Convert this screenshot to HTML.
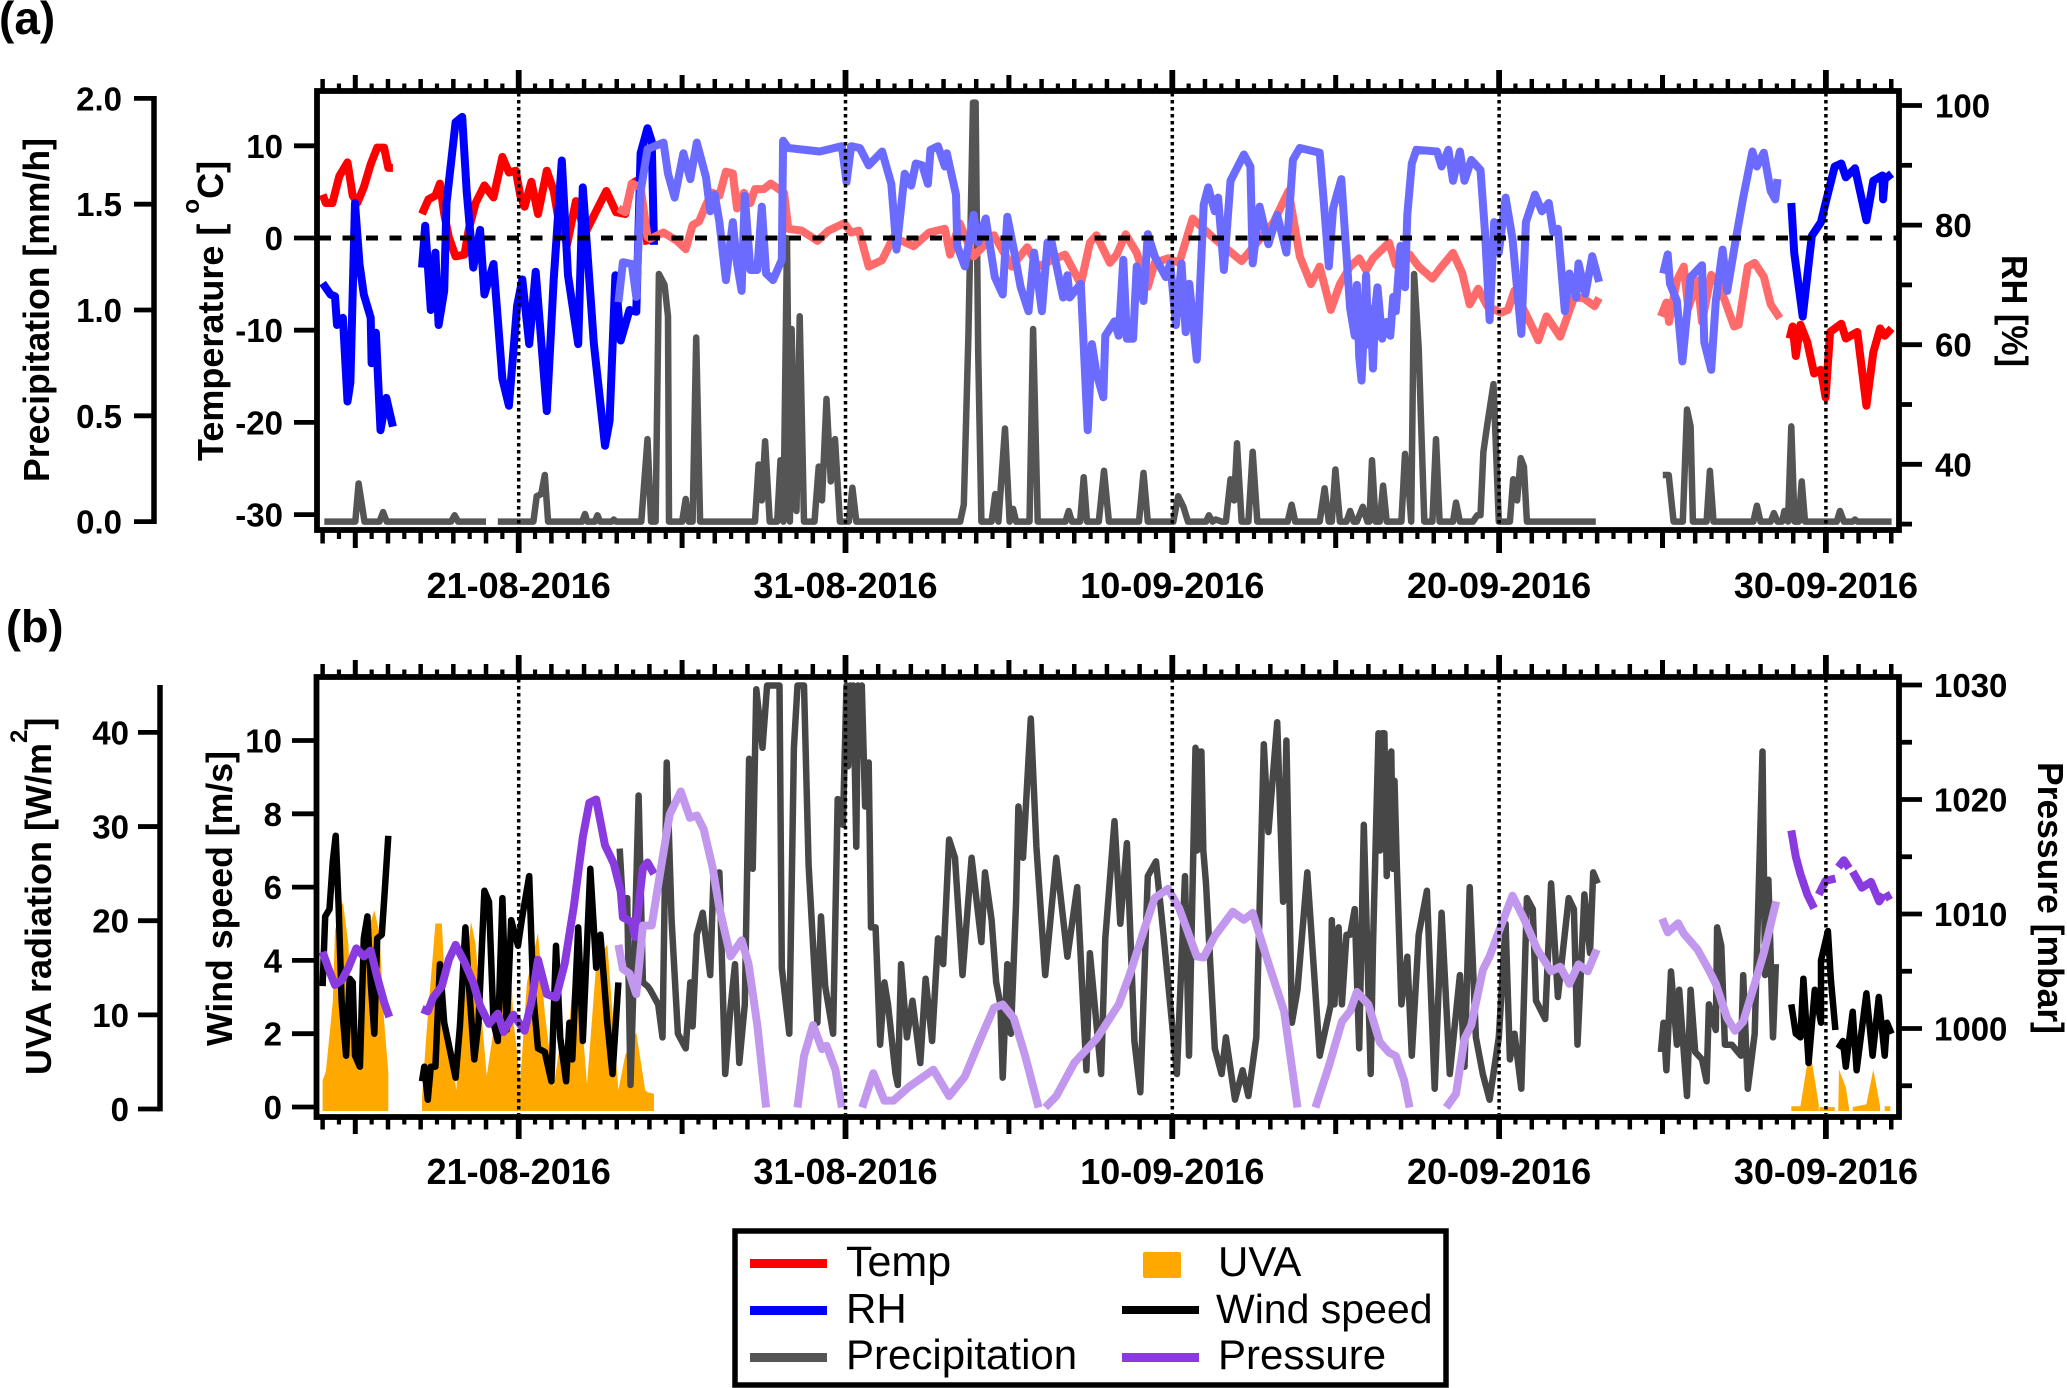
<!DOCTYPE html>
<html lang="en">
<head>
<meta charset="utf-8">
<title>Meteorological time series</title>
<style>
html,body{margin:0;padding:0;background:#fff;width:2067px;height:1388px;overflow:hidden}
svg{display:block}
text{font-family:"Liberation Sans",Arial,sans-serif;fill:#000}
.b{font-weight:bold}
</style>
</head>
<body>
<svg id="chart" xmlns="http://www.w3.org/2000/svg" width="2067" height="1388" viewBox="0 0 2067 1388">
  <rect x="0" y="0" width="2067" height="1388" fill="#fff"/>
  <g id="panelA"></g>
  <g id="panelB"></g>

  <text class="b" x="-1" y="34" font-size="46">(a)</text>
  <text class="b" x="6" y="642" font-size="45">(b)</text>

  <text class="b" font-size="36" transform="translate(49,482) rotate(-90)" textLength="344" lengthAdjust="spacingAndGlyphs">Precipitation [mm/h]</text>
  <text class="b" font-size="36" transform="translate(223,461) rotate(-90)">Temperature [ <tspan font-size="24" dy="-24">o</tspan><tspan dy="24">C]</tspan></text>
  <text class="b" font-size="36" transform="translate(2002,255) rotate(90)" textLength="112" lengthAdjust="spacingAndGlyphs">RH [%]</text>
  <text class="b" font-size="36" transform="translate(51,1075) rotate(-90)">UVA radiation [W/m<tspan font-size="24" dy="-24">2</tspan><tspan dy="24">]</tspan></text>
  <text class="b" font-size="36" transform="translate(232,1046) rotate(-90)" textLength="295" lengthAdjust="spacingAndGlyphs">Wind speed [m/s]</text>
  <text class="b" font-size="36" transform="translate(2038,762) rotate(90)" textLength="272" lengthAdjust="spacingAndGlyphs">Pressure [mbar]</text>

  <g>
    <rect x="735" y="1231" width="711" height="154" fill="#fff" stroke="#000" stroke-width="5.5"/>
    <rect x="750" y="1259" width="77" height="9" fill="#ff0000"/>
    <text x="846" y="1276" font-size="43">Temp</text>
    <rect x="750" y="1306" width="77" height="9" fill="#0000ff"/>
    <text x="846" y="1323" font-size="42">RH</text>
    <rect x="750" y="1353" width="77" height="9" fill="#555"/>
    <text x="846" y="1369" font-size="42">Precipitation</text>
    <rect x="1143" y="1252" width="38" height="26" rx="2" fill="#ffa800"/>
    <text x="1218" y="1276" font-size="42">UVA</text>
    <rect x="1122" y="1306" width="77" height="8" fill="#000"/>
    <text x="1216" y="1323" font-size="41">Wind speed</text>
    <rect x="1122" y="1353" width="77" height="9" fill="#8a3be0"/>
    <text x="1218" y="1369" font-size="42">Pressure</text>
  </g>
</svg>
<script>
// ---------- Shared axis data ----------
const dateDays = [0, 10, 20, 30, 40];
const dateLabels = ['21-08-2016', '31-08-2016', '10-09-2016', '20-09-2016', '30-09-2016'];
const tickStartDay = -6;
const tickEndDay = 42;
const tempTicks = [10, 0, -10, -20, -30];
const precipTicks = [0, 0.5, 1, 1.5, 2];
const rhMajorTicks = [100, 80, 60, 40];
const rhMinorTicks = [90, 70, 50, 30];
const windTicks = [10, 8, 6, 4, 2, 0];
const uvaTicks = [40, 30, 20, 10, 0];
const pressureMajorTicks = [1030, 1020, 1010, 1000];
const pressureMinorTicks = [1025, 1015, 1005, 995];

// ---------- Panel (a) series: days since 21-08-2016, null = gap ----------
const tempDays = [-6,-5.9,-5.7,-5.49,-5.24,-5.08,-4.94,-4.74,-4.53,-4.33,-4.12,-3.99,-3.85,null,
-2.96,-2.76,-2.55,-2.41,-2.28,-2.14,-1.93,-1.66,-1.53,-1.32,-1.05,-.77,-.5,-.3,-.09,.05,.18,.39,.59,.86,1.07,1.21,1.48,1.75,2.03,2.44,2.68,2.98,3.26,3.46,3.66,3.94,null,
38.89,38.98,39.08,39.22,39.43,39.64,39.85,39.99,40.13,40.47,40.61,40.96,41.24,41.45,41.66,41.8,42.01];
const tempValues = [4.7,3.8,3.8,6.7,8.2,4.6,3.8,5.5,8,9.8,9.8,7.6,7.6,null,
2.6,4.2,4.6,5.9,2.6,.1,-2,-1.8,.9,3.8,5.7,4.4,8.8,7.1,7.3,4.6,3.4,6.1,2.6,7.3,5.1,2.2,-.7,4,.5,3.4,5.1,2.8,2.6,5.9,6.3,-.7,null,
-10.9,-9.6,-12.8,-9.4,-11.3,-14.7,-14.3,-17.3,-10.2,-9.3,-10.9,-10.2,-18.2,-12.4,-9.8,-10.6,-9.8];
const tempFadedDays = [3.05,3.26,3.46,3.73,3.94,4.02,4.43,4.84,5.11,5.32,5.52,5.73,5.93,6.14,6.34,6.55,6.68,6.89,7.09,7.23,7.5,7.71,8.12,8.25,8.66,9.14,9.48,9.96,10.17,10.41,10.71,11.12,11.47,12.08,12.56,13.04,13.2,13.49,13.92,14.54,15.09,15.56,15.9,16.25,16.72,17.2,17.48,17.68,18.09,18.3,18.57,18.91,19.25,19.46,19.87,20.21,20.62,21.23,22.12,23.08,23.56,23.9,24.24,24.51,24.85,25.13,25.44,25.72,25.93,26.14,26.63,26.84,27.26,27.54,27.96,28.24,28.59,28.87,29.1,29.36,29.64,30.06,30.27,30.47,31.03,31.2,31.45,31.87,32.29,32.57,32.92,33.06,null,
34.95,35.12,35.2,35.44,35.65,35.79,36.07,36.21,36.49,36.7,36.91,37.19,37.33,37.61,37.82,38.1,38.31,38.59];
const tempFadedValues = [3.2,2.8,5.9,5.5,.1,-.1,.6,-.3,-1.2,1.4,1.8,3.6,4.9,4.6,7.2,7,3.2,4.9,3.8,5.3,5.3,5.9,4.9,1,.8,-.3,.8,1.6,.6,.8,-3.1,-2.4,.1,-.9,.6,1,-1.8,1.6,-2,.3,-3.1,-1,-3.1,-2.5,-1.8,-5,-.5,.3,-2.7,-1.8,.4,-1.6,-5.3,-2.7,-2.2,-2.7,2.1,.1,-2.5,1.6,5.1,-2,-5,-3.1,-7.8,-5,-3.1,-2.2,-3.5,-2.2,-.5,-2.9,-1.8,-3.1,-4.4,-3.1,-1.6,-3.8,-7.2,-5.5,-7.4,-8.1,-7.8,-5.7,-9.8,-11.1,-8.5,-10.7,-6.5,-6.5,-7.4,-6.5,null,
-8.5,-7,-9.1,-4.6,-3.1,-7.6,-4.6,-9.1,-4,-5,-6.8,-9.6,-9.4,-3.1,-2.7,-4.2,-7.2,-8.7];

const rhDays = [-6,-5.76,-5.62,-5.56,-5.38,-5.24,-5.15,-5.01,-4.87,-4.74,-4.53,-4.5,-4.37,-4.23,-4.05,-3.85,null,
-2.96,-2.86,-2.69,-2.55,-2.45,-2.28,-2.21,-1.93,-1.73,-1.59,-1.39,-1.18,-1.05,-.77,-.5,-.3,-.05,.11,.32,.52,.86,1.07,1.32,1.51,1.82,1.96,2.3,2.64,2.78,2.96,3.12,3.39,3.6,3.73,3.94,4.07,4.14,null,
38.94,39.03,39.29,39.57,39.85,39.99,40.27,40.47,40.61,40.89,41.24,41.45,41.73,41.75,41.8,42.01];
const rhValues = [70.3,68.4,68.1,63.3,64.5,50.5,53.7,83.7,73.5,68.4,64.5,56.9,62,45.7,51.1,46.3,null,
72.9,79.9,65.8,75.4,63.3,69,83.7,97.2,98.1,85.6,72.9,79.2,68.4,73.5,54.3,49.8,66.5,70.9,60.1,72.2,48.9,70.9,90.8,71.6,60.1,86.3,60.1,43.1,47.3,71.6,60.7,65.8,65.5,92,96.2,94,76.7,null,
83.7,75.4,64.7,78.2,80.5,83.7,89.8,90.3,88,89.5,80.8,87.4,88.3,84.3,87.7,88.6];
const rhFadedDays = [3.05,3.19,3.46,3.6,3.73,3.94,4.16,4.43,4.57,4.77,5.04,5.25,5.45,5.73,5.86,6,6.14,6.34,6.55,6.68,6.82,6.92,7.09,7.3,7.44,7.57,7.78,8.05,8.09,8.25,9.21,9.89,10.03,10.17,10.44,10.71,11.12,11.4,11.56,11.81,12.01,12.15,12.35,12.52,12.6,12.83,13.04,13.1,13.38,13.42,13.65,13.92,14.06,14.29,14.57,14.81,14.95,15.15,15.36,15.6,15.77,16.01,16.18,16.31,16.66,16.79,16.86,17.2,17.41,17.54,17.68,17.89,17.95,18.23,18.36,18.5,18.61,18.8,18.91,19.12,19.25,19.46,19.8,19.94,20.11,20.28,20.41,20.52,20.75,20.96,21.1,21.3,21.4,21.58,21.78,22.19,22.39,22.46,22.67,22.94,23.21,23.49,23.69,23.9,24.51,24.65,24.79,24.92,25.17,25.44,25.58,25.65,25.72,25.79,25.86,25.93,26.0,26.07,26.14,26.21,26.28,26.42,26.56,26.67,26.76,26.84,26.98,27.12,27.19,27.33,27.47,28.1,28.24,28.45,28.59,28.8,28.94,29.15,29.43,29.57,29.71,29.85,29.99,30.2,30.41,30.68,30.82,31.1,31.31,31.52,31.66,31.8,32.01,32.15,32.36,32.43,32.64,32.85,33.06,null,
35.02,35.16,35.23,35.44,35.61,35.86,36.21,36.28,36.49,36.63,36.84,36.98,37.26,37.47,37.75,37.89,38.1,38.31,38.45,38.52];
const rhFadedValues = [67.1,73.8,73.5,68,85.6,92.7,93.2,93.8,88.6,84.6,92,87.7,93.8,88,82.3,85.1,80.5,70.8,80.5,73.6,69,84.9,72.5,72.5,83.1,71.9,70.8,74.2,94.1,92.9,92.3,93.2,87.2,93.2,92.9,90,92.3,86.9,75.9,88.6,86.6,90.3,90,86.9,92.6,93.2,89.8,92,85.1,76.5,73.1,81.7,77.1,81.1,71.3,68.4,81.4,75.9,69.6,65.6,75.4,65.6,77.1,77.1,67.9,71.6,67.9,70.2,45.7,60.1,55.2,51.2,61.5,63.9,61.5,74.2,61,61,73.1,67.3,78.5,74.8,71.3,73.6,63.3,73.6,62.1,70.2,57.5,83.4,86.3,82.3,84.6,72.5,87.4,91.8,89.8,73.6,83.1,76.8,81.7,75.4,90.9,92.9,92.1,82.8,73.1,82.8,87.7,66.1,61.5,70,58,54,62,71.6,60,66,56,66,69.6,61,63.8,61.5,68,65.6,76.5,69.6,81.7,90.3,92.6,92.3,89.8,92.6,87.4,92.3,87.4,90.9,89.2,78.8,64.1,80.5,75.4,84.6,77.7,61.8,80.5,85.1,82.3,83.7,78.8,79.4,65.6,71.9,67.9,73.6,68.5,74.8,70.5,null,
71.9,75.1,70.2,67.3,57.2,71.3,73.3,60.4,55.8,67.3,75.9,69,78.2,84.6,92.3,89.8,92.1,85.7,84.3,87.7];

const precipDays = [-5.95,-5,-4.9,-4.72,-4.26,-4.15,-4.04,-2.07,-1.96,-1.85,-1,null,
-.64,.45,.55,.69,.8,.9,1.94,2.03,2.1,2.33,2.41,2.49,2.85,2.91,2.98,3.75,3.94,4.05,4.19,4.29,4.46,4.57,4.6,5,5.11,5.2,5.32,5.43,5.55,7.23,7.34,7.44,7.54,7.68,7.91,8.01,8.1,8.21,8.3,8.35,8.42,8.5,8.6,8.73,9.05,9.18,9.28,9.42,9.55,9.68,9.83,10.1,10.21,10.33,13.51,13.62,13.76,13.9,13.98,14.06,14.16,14.47,14.58,14.68,14.88,15.02,15.13,15.22,15.63,15.74,15.88,16.73,16.83,16.93,17.18,17.29,17.39,17.75,17.91,18.06,18.98,19.12,19.25,20.03,20.18,20.34,20.48,21.03,21.12,21.23,21.33,21.51,21.64,21.78,21.89,21.98,22.12,22.33,22.46,22.6,23.53,23.65,23.76,24.51,24.66,24.79,24.88,24.99,25.13,25.33,25.44,25.55,25.65,25.83,25.97,26.03,26.11,26.22,26.35,26.45,26.56,27.01,27.12,27.23,27.31,27.4,27.54,27.61,27.71,27.96,28.07,28.18,28.59,28.68,28.8,29.2,29.33,29.43,29.52,29.64,29.83,29.99,30.33,30.43,30.55,30.66,30.76,30.85,32.96,null,
35.01,35.19,35.34,35.62,35.75,35.86,35.93,36.35,36.45,36.56,37.78,37.89,38,38.31,38.41,38.52,38.66,38.73,38.84,38.94,39.04,39.17,39.26,39.36,40.33,40.43,40.55,40.82,40.89,40.96,42.01];
const precipValues = [0,0,.18,0,0,.045,0,0,.03,0,0,null,
0,0,.12,.13,.22,0,0,.036,0,0,.03,0,0,.01,0,0,.39,0,0,1.17,1.12,.97,0,0,.107,0,0,.87,0,0,.27,.1,.38,0,0,.29,0,1.34,0,.91,.42,.05,.97,0,0,.26,.1,.58,.19,.39,0,0,.16,0,0,.08,.88,1.98,1.98,.8,0,0,.13,0,.44,0,.06,0,0,.91,0,0,.05,0,0,.21,0,0,.24,0,0,.23,0,0,.12,.07,0,0,.03,0,.01,0,0,.2,.1,.37,0,0,.33,0,0,.08,0,0,.157,0,0,.246,0,0,.05,0,0,.07,0,0,.29,0,0,.17,0,0,.32,.17,0,1.17,.82,.48,0,0,.39,0,0,.09,0,0,.03,.03,.33,.46,.65,0,0,.2,.1,.3,.26,0,0,null,
.22,.22,0,0,.53,.45,0,0,.24,0,0,.075,0,0,.04,0,0,.05,0,.45,0,0,.19,0,0,.05,0,0,.01,0,0];

// ---------- Panel (b) series ----------
const uvaDays = [-6,-5.9,-5.69,-5.62,-5.38,-5.21,-5.08,-4.87,-4.67,-4.42,-4.26,-4.12,-3.99,null,
-2.96,-2.82,-2.55,-2.35,-2.21,-1.91,-1.73,-1.46,-1.32,-.98,-.64,-.3,-.16,.05,.25,.59,.8,1.07,1.23,1.48,1.75,2.09,2.37,2.71,3.05,3.26,3.6,3.87,3.94,4.14,null,
38.94,39.22,39.43,39.57,39.78,null,39.8,39.92,40.27,null,40.38,40.4,40.61,40.71,null,40.82,41.24,41.45,41.66,null,41.8,41.97];
const uvaValues = [3,4,11.4,19,22,17.5,5.3,4,18.3,21.1,18.7,9.3,3.9,null,
1.2,8.1,19.7,19.7,9.3,2,11.4,19.9,17.5,3.5,11.4,19.1,9.3,3,13.4,18.7,10.2,2.4,6.1,6.1,17.5,2.6,15.4,17.5,2,5.7,8.1,2,1.8,1.6,null,
.3,.3,4.9,5.1,.5,null,.2,.2,.2,null,.1,4.2,2.3,.1,null,.2,.5,4.2,.3,null,.3,.3];

const windDays = [-6,-5.92,-5.79,-5.69,-5.6,-5.51,-5.42,-5.28,-5.17,-5.08,-5.01,-4.86,-4.74,-4.63,-4.53,-4.42,-4.33,-4.19,-4.09,-3.99,null,
-2.96,-2.89,-2.78,-2.69,-2.55,-2.41,-2.28,-2.14,-1.93,-1.8,-1.63,-1.53,-1.36,-1.23,-1.05,-.91,-.77,-.64,-.5,-.37,-.23,-.02,.11,.32,.45,.59,.8,1,1.14,1.27,1.45,1.55,1.64,1.82,1.96,2.19,2.37,2.5,2.71,2.87,3.05,null,
38.94,39.08,39.22,39.31,39.47,39.66,39.85,39.85,40.06,40.15,40.29,null,
40.38,40.52,40.61,40.82,40.94,41.24,41.43,41.62,41.8,41.87,42.01];
const windValues = [3.3,5.2,5.4,6.7,7.4,5.5,2.9,1.4,3.5,3.4,1.4,1.1,4.6,5.2,3.4,2,4.6,4.7,6,7.4,null,
.7,1.1,.2,1.1,1.1,3.9,2.3,1.7,.8,2.2,4.9,3.4,1.3,2.3,5.9,5.6,2.3,1.8,5.7,2.1,5.1,4.4,5.2,6.3,3,1.6,1.5,.7,4.4,1.9,.7,2.3,1.3,4.9,1.8,6.5,3.8,4.7,2.3,.9,3.4,null,
2.8,2,1.9,3.5,1.2,3.2,2.3,4,4.8,3.5,2.1,null,
1.6,1.8,1.1,2.6,1,3.1,1.4,3,1.4,2.3,2];
const windFadedDays = [3.09,3.19,3.32,3.42,3.53,3.67,3.8,3.94,4.02,4.27,4.4,4.53,4.68,4.87,5.11,5.25,5.32,5.45,5.63,5.86,5.96,6.14,6.32,6.48,6.62,6.75,6.92,7.05,7.16,7.27,7.46,7.6,7.98,8.05,8.28,8.42,8.53,8.73,8.87,9.14,9.25,9.38,9.62,9.76,9.92,10.03,10.08,10.14,10.19,10.24,10.33,10.38,10.44,10.5,10.6,10.71,10.78,10.92,11.06,11.19,11.3,11.53,11.6,11.7,11.88,12.05,12.29,12.45,12.65,12.83,12.99,13.17,13.35,13.58,13.86,14.16,14.27,14.47,14.61,14.74,14.81,14.95,15.06,15.22,15.29,15.43,15.67,15.84,16.11,16.45,16.79,17.09,17.37,17.48,17.82,17.95,18.23,18.41,18.61,18.84,19.02,19.25,19.5,19.73,20.14,20.39,20.51,20.71,20.76,20.8,20.85,20.89,20.95,21.03,21.3,21.51,21.64,21.92,22.15,22.33,22.57,22.8,22.94,23.21,23.39,23.49,23.66,23.83,24.13,24.51,24.85,24.88,24.96,25.09,25.19,25.33,25.44,25.58,25.72,25.86,26.07,26.14,26.31,26.36,26.42,26.49,26.56,26.62,26.7,26.75,26.8,26.87,27.01,27.19,27.33,27.54,27.79,28.03,28.24,28.49,28.8,28.94,29.1,29.29,29.5,29.71,29.99,30.2,30.33,30.47,30.68,30.85,31.03,31.13,31.41,31.59,31.8,32.13,32.29,32.4,32.61,32.78,32.88,33.02,null,
34.95,35.03,35.12,35.26,35.44,35.51,35.75,35.86,36,36.21,36.35,36.42,36.63,36.67,36.8,36.91,37.12,37.4,37.47,37.61,37.82,38.06,38.14,38.24,38.38,38.47];
const windFadedValues = [7.05,5.5,5.7,.6,3.9,8.5,3.4,3.3,3.2,2.8,1.9,9.4,5.1,2,1.6,3.4,2.2,4.7,5.3,3.6,6.3,6.4,.9,2.7,3.9,1.2,2.8,9.5,6.5,11.4,9.8,11.5,11.5,3.8,2,9.8,11.5,11.5,6.6,2.3,5.2,3.3,2,8.4,7.7,11.5,9.3,11.5,9.6,11.5,7.1,11.5,9.6,11.5,8.2,9.4,4.9,4.9,1.7,3.4,2.8,.9,.6,3.9,1.9,2.9,1.2,3.5,1.8,4.6,3.9,7.3,6.8,3.6,6.8,4.5,6.4,5.1,3.4,2.8,.8,3.9,2,5.6,8.2,6.8,10.6,7.1,3.6,6.8,4.1,6,1,4.2,.9,4.6,7.8,5,7.2,1.8,.4,6.3,6.7,4.7,.9,6.3,1.4,9.8,7,9.7,7.5,9.7,7,6.1,1.6,.9,1.9,.2,1,.3,1.9,9.9,7.5,10.5,5.6,10,2.3,3.2,6.4,1.4,2.8,5.1,2.8,4.9,2.8,4.7,4.7,5.4,1.6,7.7,.9,4.4,10.2,7,10.2,10.2,6.3,9,9.7,6.5,8.9,6.6,2.8,4.1,1.4,4.7,5.9,.5,5.3,.9,3.6,1.1,6,1.9,.9,.2,1.9,5,1.3,2,.5,5.7,5.4,2.9,2.4,6.1,3,5.7,5.4,1.7,5.8,4.2,6.4,6.1,null,
1.5,2.3,1,3.7,1.7,3.2,.3,3.2,1.5,1.3,.7,2.8,2.1,4.9,4.4,1.7,1.7,1.4,3.6,.5,2,9.7,3.6,6.2,1.9,3.9];

const pressureDays = [-6,-5.83,-5.62,-5.42,-5.21,-4.97,-4.74,-4.53,-4.33,-4.12,-3.96,null,
-2.96,-2.78,-2.62,-2.35,-2.14,-1.93,-1.66,-1.39,-1.18,-.91,-.64,-.46,-.16,.18,.39,.59,.86,1.14,1.41,1.69,1.96,2.16,2.37,2.64,2.91,3.12,3.19,3.46,3.56,3.8,3.94,4.14,null,
38.94,39.08,39.22,39.43,39.64,null,39.78,39.99,40.29,null,40.38,40.55,40.71,null,40.82,41.1,41.38,41.63,41.77,null,41.8,41.99];
const pressureValues = [1006.7,1005.3,1003.8,1004.2,1005.3,1007,1006.3,1006.8,1004.5,1002.3,1001,null,
1001.7,1001.5,1002.7,1003.7,1006,1007.3,1005.8,1004,1002,1000.4,1001.3,999.7,1001.2,999.8,1002.3,1006,1003,1002.7,1005.7,1010.7,1016.7,1019.7,1020,1016,1014.4,1012,1009.7,1009.3,1008,1014,1014.5,1013.5,null,
1017.3,1015,1013.5,1011.7,1010.5,null,1011.7,1012.9,1013.1,null,1014.1,1014.7,1014,null,1013.7,1012.3,1012.8,1011.1,1011.7,null,1011.4,1011.7];
const pressureFadedDays = [3.05,3.19,3.39,3.6,3.8,4.07,4.35,4.62,4.96,5.24,5.45,5.66,5.93,6.14,6.48,6.82,7.03,7.3,7.57,null,
8.53,8.73,9.01,9.28,9.42,9.69,9.89,null,
10.51,10.85,11.19,11.47,11.94,12.69,13.17,13.65,14.13,14.54,14.81,15.15,15.5,15.91,null,
16.11,16.45,17,17.68,18.36,18.71,19.18,19.46,19.87,20.21,20.75,20.96,21.3,21.85,22.19,22.46,22.94,23.42,23.83,null,
24.38,24.79,25.19,25.44,25.65,26,26.35,26.63,26.84,27.09,27.26,null,
28.38,28.68,28.94,29.15,29.5,29.71,30.06,30.41,30.76,31.17,31.59,31.87,32.15,32.43,32.71,32.99,null,
34.99,35.16,35.48,35.65,36.07,36.42,36.63,36.98,37.22,37.47,37.82,38.1,38.48];
const pressureFadedValues = [1007.3,1005.2,1004.8,1003,1009,1009,1014,1018.7,1020.7,1018.4,1018.6,1017.4,1014.1,1010.5,1006.3,1007.7,1005.7,1000.3,993.1,null,
993.1,997.6,1000.3,998.2,998.5,996.4,993.1,null,
993.1,996.1,993.7,993.7,994.9,996.4,994.1,995.8,999.1,1001.8,1002.1,1000.9,997.6,993.1,null,
993.1,994.1,997,999.1,1002.1,1004.8,1009,1011.4,1012.2,1010.5,1006.3,1006.2,1008.1,1010.2,1009.5,1010.1,1005.7,1001.5,993.1,null,
993.1,996.7,1000.6,1001.5,1003.2,1002.1,998.8,997.9,997.6,995.5,993.1,null,
993.1,994.3,999.1,1000.3,1005.1,1006.3,1009,1011.6,1009.6,1006.9,1005,1005.4,1003.9,1005.6,1005,1006.9,null,
1009.6,1008.4,1009.2,1008.3,1006.9,1005.1,1003.9,1000.9,999.8,1000.6,1003.9,1006.6,1011.1];

// ---------- Axis functions ----------
const xDay = d => 518.7 + d * 32.68;
const yTemp = v => 238 - v * 9.22;
const yRH = v => 105.5 + (100 - v) * 5.98;
const yPrecip = v => 521.6 - v * 211.6;
const yWind = v => 1107 - v * 36.65;
const yUVA = v => 1109 - v * 9.415;
const yPressure = v => 1028.5 - (v - 1000) * 11.45;

// ---------- Drawing helpers ----------
const NS = 'http://www.w3.org/2000/svg';
function make(parent, tag, attrs, txt) {
  const el = document.createElementNS(NS, tag);
  for (const k in attrs) el.setAttribute(k, attrs[k]);
  if (txt !== undefined) el.textContent = txt;
  parent.appendChild(el);
  return el;
}
function linePath(days, values, yFn) {
  let d = '', pen = false;
  for (let i = 0; i < days.length; i++) {
    if (days[i] === null || values[i] === null) { pen = false; continue; }
    d += (pen ? 'L' : 'M') + xDay(days[i]).toFixed(1) + ' ' + yFn(values[i]).toFixed(1);
    pen = true;
  }
  return d;
}
function areaPath(days, values, yFn, baseY) {
  let d = '', seg = [];
  const flush = () => {
    if (seg.length) {
      d += 'M' + seg[0][0] + ' ' + baseY + seg.map(p => 'L' + p[0] + ' ' + p[1]).join('') + 'L' + seg[seg.length - 1][0] + ' ' + baseY + 'Z';
    }
    seg = [];
  };
  for (let i = 0; i < days.length; i++) {
    if (days[i] === null) { flush(); continue; }
    seg.push([xDay(days[i]).toFixed(1), yFn(values[i]).toFixed(1)]);
  }
  flush();
  return d;
}
function series(parent, days, values, yFn, color, width) {
  return make(parent, 'path', {
    d: linePath(days, values, yFn), fill: 'none', stroke: color,
    'stroke-width': width, 'stroke-linejoin': 'round', 'stroke-linecap': 'butt'
  });
}
function drawXTicks(parent, axisY, dir, lens) {
  for (let i = tickStartDay * 2; i <= tickEndDay * 2; i++) {
    const day = i / 2;
    let len = lens[3], w = 4.2;
    if (day % 10 === 0) { len = lens[0]; w = 5.8; }
    else if (day % 5 === 0) { len = lens[1]; w = 5; }
    else if (Number.isInteger(day)) { len = lens[2]; w = 4.5; }
    const tick = make(parent, 'line', {
      x1: xDay(day), x2: xDay(day), y1: axisY, y2: axisY + dir * len, stroke: '#000', 'stroke-width': w
    });
    
    
  }
}

// ---------- Panel (a) ----------
const panelA = document.getElementById('panelA');
const precipLine = series(panelA, precipDays, precipValues, yPrecip, '#555555', 6.5);


const tempLine = series(panelA, tempDays, tempValues, yTemp, '#ff0000', 8);


const rhLine = series(panelA, rhDays, rhValues, yRH, '#0000ff', 8);


const tempFaded = series(panelA, tempFadedDays, tempFadedValues, yTemp, '#ff6b6b', 8);


const rhFaded = series(panelA, rhFadedDays, rhFadedValues, yRH, '#6b6bff', 8);



const zeroLine = make(panelA, 'line', { x1: 319, x2: 1899, y1: yTemp(0), y2: yTemp(0), stroke: '#000', 'stroke-width': 5, 'stroke-dasharray': '12 11.5' });



dateDays.forEach(d => {
  const grid = make(panelA, 'line', { x1: xDay(d), x2: xDay(d), y1: 93, y2: 528, stroke: '#000', 'stroke-width': 3.5, 'stroke-dasharray': '3.5 3.5' });
  
  
});

const frameA = make(panelA, 'rect', { x: 317, y: 91, width: 1582, height: 439, fill: 'none', stroke: '#000', 'stroke-width': 5.8 });


drawXTicks(panelA, 91, -1, [21, 16, 12, 7.5]);
drawXTicks(panelA, 530, 1, [23, 18, 13.5, 9]);

dateDays.forEach((d, i) => {
  const label = make(panelA, 'text', { x: xDay(d), y: 598, 'text-anchor': 'middle', 'font-size': 36, class: 'b' }, dateLabels[i]);
  
  
});

tempTicks.forEach(v => {
  const t = make(panelA, 'line', { x1: 294, x2: 317, y1: yTemp(v), y2: yTemp(v), stroke: '#000', 'stroke-width': 4.8 });
  
  
  const l = make(panelA, 'text', { x: 283, y: yTemp(v) + 12, 'text-anchor': 'end', 'font-size': 33, class: 'b' }, String(v));
  
  
});

const precipAxis = make(panelA, 'path', { d: 'M154 ' + (yPrecip(2) - 2.4) + 'V' + (yPrecip(0) + 2.4), fill: 'none', stroke: '#000', 'stroke-width': 5.5 });


precipTicks.forEach(v => {
  const t = make(panelA, 'line', { x1: 134, x2: 154, y1: yPrecip(v), y2: yPrecip(v), stroke: '#000', 'stroke-width': 4.8 });
  
  
  const l = make(panelA, 'text', { x: 122, y: yPrecip(v) + 12, 'text-anchor': 'end', 'font-size': 33, class: 'b' }, v.toFixed(1));
  
  
});

rhMajorTicks.forEach(v => {
  const t = make(panelA, 'line', { x1: 1899, x2: 1922, y1: yRH(v), y2: yRH(v), stroke: '#000', 'stroke-width': 4.8 });
  
  
  const l = make(panelA, 'text', { x: 1935, y: yRH(v) + 12, 'font-size': 33, class: 'b' }, String(v));
  
  
});
rhMinorTicks.forEach(v => {
  const t = make(panelA, 'line', { x1: 1899, x2: 1912, y1: yRH(v), y2: yRH(v), stroke: '#000', 'stroke-width': 4.8 });
  
  
});

// ---------- Panel (b) ----------
const panelB = document.getElementById('panelB');
const uvaArea = make(panelB, 'path', { d: areaPath(uvaDays, uvaValues, yUVA, 1111), fill: '#ffa800', stroke: 'none' });


const windLine = series(panelB, windDays, windValues, yWind, '#000000', 6.5);


const windFaded = series(panelB, windFadedDays, windFadedValues, yWind, '#474747', 6.5);


const pressureLine = series(panelB, pressureDays, pressureValues, yPressure, '#8a3be0', 8);


const pressureFaded = series(panelB, pressureFadedDays, pressureFadedValues, yPressure, '#c198ee', 8);



dateDays.forEach(d => {
  const grid = make(panelB, 'line', { x1: xDay(d), x2: xDay(d), y1: 679, y2: 1114, stroke: '#000', 'stroke-width': 3.5, 'stroke-dasharray': '3.5 3.5' });
  
  
});

const frameB = make(panelB, 'rect', { x: 316.5, y: 677, width: 1582.5, height: 440, fill: 'none', stroke: '#000', 'stroke-width': 5.8 });


drawXTicks(panelB, 677, -1, [22, 17, 13, 7.5]);
drawXTicks(panelB, 1117, 1, [22, 17, 12.5, 7.5]);

dateDays.forEach((d, i) => {
  const label = make(panelB, 'text', { x: xDay(d), y: 1184, 'text-anchor': 'middle', 'font-size': 36, class: 'b' }, dateLabels[i]);
  
  
});

windTicks.forEach(v => {
  const t = make(panelB, 'line', { x1: 292, x2: 317, y1: yWind(v), y2: yWind(v), stroke: '#000', 'stroke-width': 4.8 });
  
  
  const l = make(panelB, 'text', { x: 282, y: yWind(v) + 12, 'text-anchor': 'end', 'font-size': 33, class: 'b' }, String(v));
  
  
});

const uvaAxis = make(panelB, 'path', { d: 'M160 685V' + (yUVA(0) + 2.4), fill: 'none', stroke: '#000', 'stroke-width': 5.5 });


uvaTicks.forEach(v => {
  const t = make(panelB, 'line', { x1: 138, x2: 160, y1: yUVA(v), y2: yUVA(v), stroke: '#000', 'stroke-width': 4.8 });
  
  
  const l = make(panelB, 'text', { x: 129, y: yUVA(v) + 12, 'text-anchor': 'end', 'font-size': 33, class: 'b' }, String(v));
  
  
});

pressureMajorTicks.forEach(v => {
  const t = make(panelB, 'line', { x1: 1899, x2: 1922, y1: yPressure(v), y2: yPressure(v), stroke: '#000', 'stroke-width': 4.8 });
  
  
  const l = make(panelB, 'text', { x: 1934, y: yPressure(v) + 12, 'font-size': 33, class: 'b' }, String(v));
  
  
});
pressureMinorTicks.forEach(v => {
  const t = make(panelB, 'line', { x1: 1899, x2: 1912, y1: yPressure(v), y2: yPressure(v), stroke: '#000', 'stroke-width': 4.8 });
  
  
});
</script>
</body>
</html>
